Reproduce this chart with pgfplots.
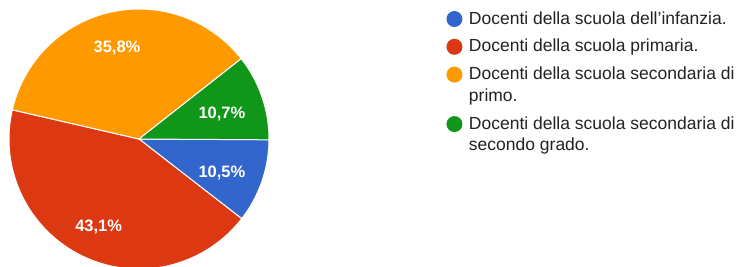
\documentclass[border=0pt]{standalone}
\usepackage{pgfplots}
\pgfplotsset{compat=1.18}
\usepackage{fontspec}
\setmainfont{Liberation Sans}
\definecolor{gblue}{HTML}{3366CC}
\definecolor{gred}{HTML}{DC3912}
\definecolor{gorange}{HTML}{FF9900}
\definecolor{ggreen}{HTML}{109618}
\definecolor{txtgray}{HTML}{222222}
% shares (percent)
\def\vA{10.5}\def\vB{43.1}\def\vC{35.8}\def\vD{10.7}
\newcommand\fst{\rule[-5pt]{0pt}{27.8pt}}
\newcommand\cnt{\rule[-5pt]{0pt}{21.7pt}}
\begin{document}
\begin{tikzpicture}
\useasboundingbox (0,0) rectangle (736pt,266pt);
\clip (0,0) rectangle (736pt,266pt);
\pgfmathsetmacro\aA{-3.6*\vA}
\pgfmathsetmacro\aB{\aA-3.6*\vB}
\pgfmathsetmacro\aC{\aB-3.6*\vC}
\pgfmathsetmacro\aD{\aC-3.6*\vD}
\begin{axis}[
  x=130pt, y=130pt,
  at={(139pt,127pt)}, anchor=origin,
  xmin=-1.1,xmax=1.1,ymin=-1.1,ymax=1.1,
  hide axis, clip=false,
  legend cell align=left,
  legend style={draw=none, fill=none, inner sep=0pt, outer sep=0pt,
    row sep=0pt, column sep=6.5pt,
    nodes={inner sep=0pt, outer sep=0pt, text=txtgray, text depth=, text height=},
    font=\fontsize{17.5}{22.6}\selectfont,
    anchor=north west, at={(axis cs:2.365,1.06)}},
  legend image code/.code={\fill[#1,draw=none] (8pt,-3.9pt) circle (8pt);},
]
\addplot[fill=gblue, draw=white, line width=1pt, domain=\aA:0, samples=40] ({cos(x)},{sin(x)}) -- (axis cs:0,0) -- cycle;
\addlegendentry{\fst Docenti della scuola dell’infanzia.}
\addplot[fill=gred, draw=white, line width=1pt, domain=\aB:\aA, samples=120] ({cos(x)},{sin(x)}) -- (axis cs:0,0) -- cycle;
\addlegendentry{\fst Docenti della scuola primaria.}
\addplot[fill=gorange, draw=white, line width=1pt, domain=\aC:\aB, samples=120] ({cos(x)},{sin(x)}) -- (axis cs:0,0) -- cycle;
\addlegendentry{\fst Docenti della scuola secondaria di}
\addlegendimage{empty legend}
\addlegendentry{\cnt primo.}
\addplot[fill=ggreen, draw=white, line width=1pt, domain=\aD:\aC, samples=40] ({cos(x)},{sin(x)}) -- (axis cs:0,0) -- cycle;
\addlegendentry{\fst Docenti della scuola secondaria di}
\addlegendimage{empty legend}
\addlegendentry{\cnt secondo grado.}
\begin{scope}[every node/.style={text=white, font=\fontsize{16.5}{18}\selectfont\bfseries, text depth=0pt, inner sep=0pt}]
\node at (axis cs:0.638,-0.252) {10,5\%};
\node at (axis cs:0.638,0.202) {10,7\%};
\node at (axis cs:-0.169,0.71) {35,8\%};
\node at (axis cs:-0.31,-0.668) {43,1\%};
\end{scope}
\end{axis}
\end{tikzpicture}
\end{document}
